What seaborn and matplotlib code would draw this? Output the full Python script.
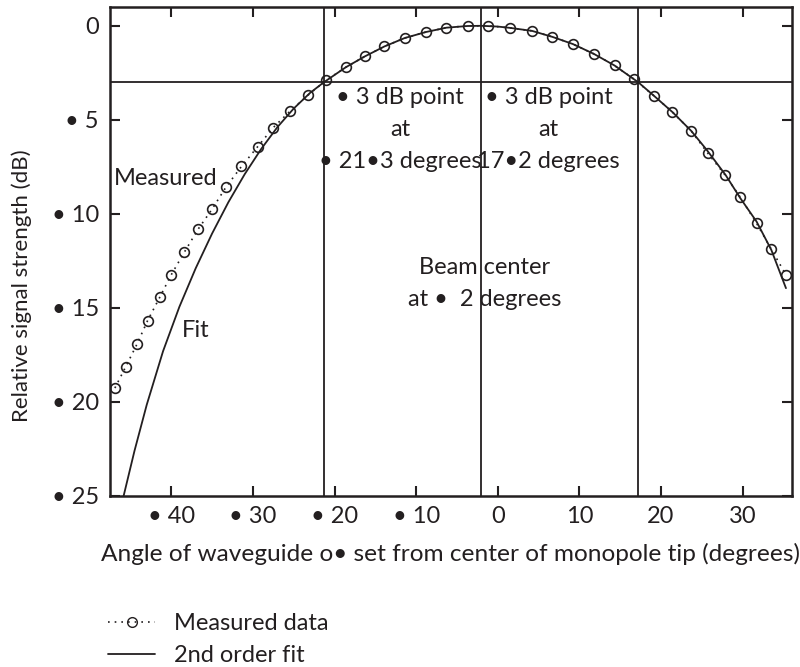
import matplotlib
matplotlib.use("Agg")
import matplotlib.pyplot as plt
from matplotlib.lines import Line2D
import seaborn as sns
import pandas as pd

# measured beam pattern (angle in degrees, relative signal in dB)
meas_x = [-46.9, -45.6, -44.2, -42.9, -41.4, -40.0, -38.4, -36.7, -35.0, -33.3,
          -31.4, -29.4, -27.5, -25.4, -23.2, -21.0, -18.6, -16.3, -13.9, -11.4,
          -8.8, -6.3, -3.7, -1.2, 1.5, 4.2, 6.7, 9.2, 11.8, 14.3,
          16.7, 19.1, 21.4, 23.7, 25.7, 27.8, 29.7, 31.7, 33.5, 35.3]
meas_y = [19.26, 18.15, 16.93, 15.68, 14.43, 13.24, 12.04, 10.81, 9.75, 8.58,
          7.48, 6.42, 5.41, 4.52, 3.67, 2.89, 2.20, 1.63, 1.10, 0.65,
          0.33, 0.10, 0.0, 0.0, 0.11, 0.27, 0.59, 0.97, 1.50, 2.11,
          2.84, 3.71, 4.59, 5.59, 6.76, 7.91, 9.11, 10.50, 11.88, 13.24]

# 2nd order fit curve
fit_x = [-46.0, -44.5, -43.0, -41.0, -39.0, -37.0, -35.0, -33.0, -31.0, -29.0,
         -27.0, -25.0, -23.0, -21.3, -18.6, -16.3, -13.9, -11.4, -8.8, -6.3,
         -3.7, -2.0, 0.0, 1.5, 4.2, 6.7, 9.2, 11.8, 14.3, 17.2,
         19.1, 21.4, 23.7, 25.6, 27.9, 29.7, 31.7, 33.5, 35.3]
fit_y = [25.3, 22.6, 20.15, 17.3, 14.94, 12.89, 11.05, 9.38, 7.89, 6.56,
         5.39, 4.40, 3.57, 3.0, 2.2, 1.63, 1.1, 0.65, 0.33, 0.1,
         0.01, 0.0, 0.04, 0.11, 0.27, 0.59, 0.97, 1.5, 2.11, 3.0,
         3.71, 4.59, 5.59, 6.6, 7.93, 9.16, 10.41, 11.91, 13.95]

# reference lines
marker_angles = [-21.3, -2.0, 17.2]
level_3db = 3

x_ticks = [-40, -30, -20, -10, 0, 10, 20, 30]
x_labels = ["• 40", "• 30", "• 20", "• 10", "0", "10", "20", "30"]
y_ticks = [0, 5, 10, 15, 20, 25]
y_labels = ["0", "• 5", "• 10", "• 15", "• 20", "• 25"]

ink = "#231f20"
fs = 17
dots = (0, (1, 3))

sns.set_theme(style="ticks")
plt.rcParams["font.family"] = ["Lato", "DejaVu Sans"]
plt.rcParams["text.color"] = ink
plt.rcParams["axes.labelcolor"] = ink
plt.rcParams["xtick.color"] = ink
plt.rcParams["ytick.color"] = ink

fig = plt.figure(figsize=(8, 6.67), dpi=100)
ax = fig.add_axes([0.1375, 0.2564, 0.8521, 0.7331])

meas = pd.DataFrame({"angle": meas_x, "db": meas_y})
fit = pd.DataFrame({"angle": fit_x, "db": fit_y})

sns.lineplot(data=fit, x="angle", y="db", ax=ax, color=ink, linewidth=1.3)
sns.lineplot(data=meas, x="angle", y="db", ax=ax, color=ink, linewidth=1.2,
             linestyle=dots, marker="o", markersize=7, markerfacecolor="none",
             markeredgecolor=ink, markeredgewidth=1.2)

for a in marker_angles:
    ax.axvline(a, color=ink, linewidth=1.3, zorder=1)
ax.axhline(level_3db, color=ink, linewidth=1.3, zorder=1)

ax.set_xlim(-47.5, 36.0)
ax.set_ylim(25, -1.0)
ax.set_xticks(x_ticks)
ax.set_xticklabels(x_labels)
ax.set_yticks(y_ticks)
ax.set_yticklabels(y_labels)
ax.tick_params(direction="in", top=True, right=True, length=7, width=1.5,
               labelsize=fs)
ax.tick_params(axis="x", pad=7)
ax.tick_params(axis="y", pad=8)
for s in ax.spines.values():
    s.set_linewidth(1.8)
    s.set_color(ink)

ax.set_xlabel("Angle of waveguide o• set from center of monopole tip (degrees)",
              fontsize=17.6, labelpad=12)
ax.set_ylabel("Relative signal strength (dB)", fontsize=16)
ax.yaxis.set_label_coords(-0.115, 0.43)

ax.text(-47.0, 8.1, "Measured", fontsize=fs, ha="left", va="center")
ax.text(-38.7, 16.2, "Fit", fontsize=fs, ha="left", va="center")
ax.text(-11.95, 5.53, "• 3 dB point\nat\n• 21•3 degrees", fontsize=fs,
        ha="center", va="center", multialignment="center", linespacing=1.65)
ax.text(6.2, 5.53, "• 3 dB point\nat\n17•2 degrees", fontsize=fs,
        ha="center", va="center", multialignment="center", linespacing=1.65)
ax.text(-1.56, 13.72, "Beam center\nat •  2 degrees", fontsize=fs,
        ha="center", va="center", multialignment="center", linespacing=1.65)

handles = [
    Line2D([], [], color=ink, linestyle=dots, linewidth=1.2, marker="o",
           markersize=7, markerfacecolor="none", markeredgecolor=ink),
    Line2D([], [], color=ink, linewidth=1.3),
]
fig.legend(handles, ["Measured data", "2nd order fit"], loc="upper left",
           bbox_to_anchor=(108 / 800, 1 - 613 / 667), frameon=False,
           fontsize=fs, handlelength=2.0, handletextpad=0.8, borderpad=0,
           borderaxespad=0, labelspacing=0.47)

fig.savefig("out.png", dpi=100)
